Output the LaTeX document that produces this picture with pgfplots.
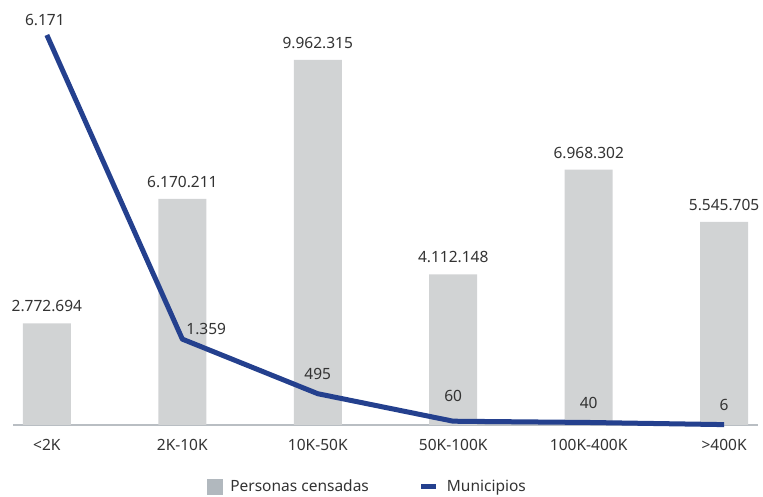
\documentclass[border=0pt]{standalone}
\usepackage{pgfplots}
\pgfplotsset{compat=1.18}
\usepackage{pgfplotstable}
\usepackage{fontspec}
\setmainfont{Noto Sans}
\definecolor{barcol}{HTML}{D1D3D4}
\definecolor{linecol}{HTML}{24408E}
\definecolor{axiscol}{HTML}{B9BEC3}
\definecolor{legsq}{HTML}{B1B8BE}
\definecolor{txt}{HTML}{333333}

\pgfplotstableread{
x y label
0 2772694 2.772.694
1 6170211 6.170.211
2 9962315 9.962.315
3 4112148 4.112.148
4 6968302 6.968.302
5 5545705 5.545.705
}\personas

\pgfplotstableread{
x y label dx dy
0 6171 6.171 -2 15
1 1359 1.359 24 10
2 495 495 0 20
3 60 60 0 25
4 40 40 0 19.5
5 6 6 0 20
}\municipios

\begin{document}
\begin{tikzpicture}[font=\fontsize{15.5bp}{18bp}\selectfont, text=txt]
\useasboundingbox (0,0) rectangle (763bp,497bp);
\begin{axis}[
  at={(13bp,72bp)}, anchor=south west,
  scale only axis, width=745bp, height=415bp,
  xmin=-0.25, xmax=5.25,
  ymin=0, ymax=11327000,
  axis x line*=bottom,
  axis y line=none,
  x axis line style={-, draw=axiscol, line width=2bp},
  xtick={0,1,2,3,4,5},
  xticklabels={{<2K},{2K-10K},{10K-50K},{50K-100K},{100K-400K},{>400K}},
  major tick length=0pt,
  xticklabel style={anchor=center, yshift=-20bp, text=txt},
  ybar, bar width=48bp,
  point meta=explicit symbolic,
  nodes near coords,
  nodes near coords style={anchor=center, yshift=17bp, text=txt, inner sep=0pt},
  clip=false,
]
\addplot[fill=barcol, draw=none] table[x=x, y=y, meta=label] {\personas};
\end{axis}
\begin{axis}[
  at={(13bp,72bp)}, anchor=south west,
  scale only axis, width=745bp, height=415bp,
  xmin=-0.25, xmax=5.25,
  ymin=0, ymax=6566.6,
  axis lines=none,
  clip=false,
  point meta=explicit symbolic,
  legend columns=2,
  legend style={at={(rel axis cs:0.26,-0.148)}, anchor=west, draw=none, fill=none,
    inner sep=0pt, text=txt,
    font=\fontsize{15.5bp}{18bp}\selectfont,
    /tikz/every odd column/.append style={column sep=8bp},
    /tikz/every even column/.append style={column sep=50bp},
    nodes={inner sep=0pt}},
]
\addlegendimage{legend image code/.code={\fill[legsq] (0bp,-7.5bp) rectangle (15bp,7.5bp);}}
\addlegendentry{Personas censadas}
\addplot[color=linecol, line width=5bp, line join=round,
  nodes near coords,
  visualization depends on={\thisrow{dx} \as \dx},
  visualization depends on={\thisrow{dy} \as \dy},
  nodes near coords style={anchor=center, xshift=\dx, yshift=\dy, text=txt, inner sep=0pt},
  legend image code/.code={\draw[linecol, line width=5bp] (0bp,0bp) -- (15bp,0bp);}
] table[x=x, y=y, meta=label] {\municipios};
\addlegendentry{Municipios}
\end{axis}
\end{tikzpicture}
\end{document}
